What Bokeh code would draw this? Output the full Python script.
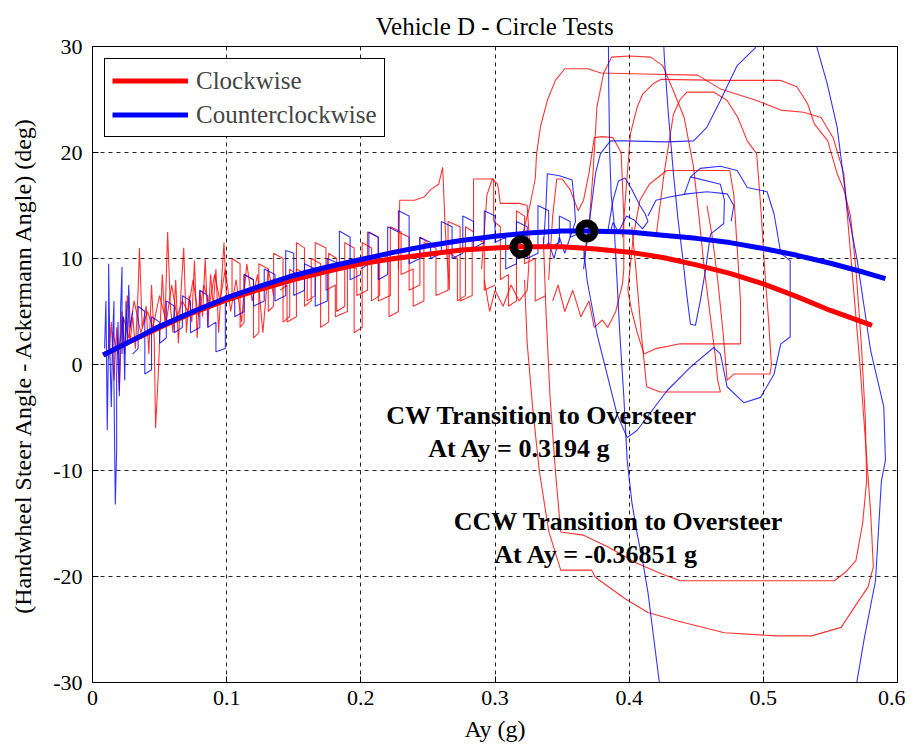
from bokeh.plotting import figure
from bokeh.models import Range1d, Label, Legend, LegendItem
from bokeh.embed import file_html
from bokeh.resources import INLINE

# ---------------- data ----------------
x_ticks = [0, 0.1, 0.2, 0.3, 0.4, 0.5, 0.6]
x_tick_labels = ["0", "0.1", "0.2", "0.3", "0.4", "0.5", "0.6"]
y_ticks = [-30, -20, -10, 0, 10, 20, 30]
y_tick_labels = ["-30", "-20", "-10", "0", "10", "20", "30"]

# fitted curves
cw_fit_x = [0.008, 0.03, 0.05, 0.075, 0.1, 0.125, 0.15, 0.175, 0.2, 0.225, 0.25, 0.275,
            0.3, 0.3194, 0.35, 0.375, 0.4, 0.425, 0.45, 0.475, 0.5, 0.525, 0.55, 0.581]
cw_fit_y = [0.9, 2.3, 3.5, 4.9, 6.1, 7.1, 8.0, 8.8, 9.5, 10.0, 10.4, 10.8,
            11.0, 11.1, 11.1, 10.9, 10.6, 10.1, 9.4, 8.6, 7.6, 6.4, 5.1, 3.7]
ccw_fit_x = [0.008, 0.03, 0.05, 0.075, 0.1, 0.125, 0.15, 0.175, 0.2, 0.225, 0.25, 0.275,
             0.3, 0.325, 0.35, 0.3685, 0.4, 0.425, 0.45, 0.475, 0.5, 0.525, 0.55, 0.575, 0.591]
ccw_fit_y = [0.9, 2.3, 3.6, 5.0, 6.3, 7.4, 8.4, 9.2, 9.9, 10.6, 11.2, 11.7,
             12.1, 12.4, 12.6, 12.6, 12.5, 12.2, 11.9, 11.5, 10.95, 10.3, 9.55, 8.7, 8.1]

# transition points
cw_point_x = [0.3194]
cw_point_y = [11.1]
ccw_point_x = [0.3685]
ccw_point_y = [12.6]

# clockwise (red) measured traces
cw1_x = [0.012, 0.014, 0.016, 0.018, 0.020, 0.022, 0.024, 0.026, 0.028, 0.030, 0.032, 0.034, 0.035,
         0.037, 0.040, 0.042, 0.044, 0.046, 0.047, 0.049, 0.052, 0.054, 0.056, 0.058, 0.060, 0.062,
         0.064, 0.066, 0.068, 0.070, 0.072, 0.074, 0.076, 0.078, 0.080, 0.082, 0.084, 0.086, 0.088,
         0.090, 0.092, 0.094, 0.096, 0.098, 0.100]
cw1_y = [0.5, 4.0, -1.5, 3.5, -2.5, 5.0, 1.0, 6.5, 2.0, 4.5, 1.5, 7.0, 11.0,
         3.5, 5.5, 1.0, 7.5, 2.5, -6.0, -1.0, 8.5, 4.0, 12.5, 5.5, 3.0, 8.0,
         2.0, 7.0, 11.0, 3.0, 6.5, 4.0, 9.8, 2.5, 7.0, 4.5, 10.0, 3.5, 8.5,
         5.5, 9.0, 3.0, 7.5, 11.5, 6.0]
cw2_x = [0.015, 0.019, 0.023, 0.027, 0.031, 0.036, 0.041, 0.045, 0.050, 0.055, 0.059, 0.063, 0.067,
         0.071, 0.075, 0.079, 0.083, 0.087, 0.091, 0.095, 0.099, 0.103, 0.107, 0.111, 0.115, 0.119,
         0.123, 0.127, 0.131, 0.135]
cw2_y = [3.0, 1.0, 4.5, 2.5, 6.0, 3.0, 5.0, 3.5, 6.5, 4.0, 7.5, 4.5, 6.0,
         5.0, 8.0, 4.5, 7.5, 5.5, 8.5, 6.0, 9.0, 5.0, 8.0, 4.0, 9.5, 6.0,
         8.5, 3.0, 9.0, 6.5]
cw3_x = [0.100, 0.104, 0.104, 0.110, 0.110, 0.113, 0.113, 0.120, 0.120, 0.124, 0.124, 0.131, 0.131,
         0.135, 0.135, 0.142, 0.142, 0.147, 0.147, 0.152, 0.152, 0.158, 0.158, 0.163, 0.163, 0.170,
         0.170, 0.176, 0.176, 0.182, 0.182, 0.188, 0.188, 0.195, 0.195, 0.201, 0.201, 0.208, 0.208,
         0.214, 0.214, 0.221, 0.221, 0.228, 0.228, 0.236, 0.236, 0.244, 0.244, 0.250]
cw3_y = [6.0, 6.5, 10.0, 9.5, 3.5, 4.0, 8.5, 8.0, 2.5, 3.0, 9.5, 9.0, 5.0,
         5.5, 10.5, 10.0, 4.0, 4.5, 9.0, 8.5, 11.5, 11.0, 5.5, 6.0, 10.0, 9.5,
         3.5, 4.0, 10.5, 10.0, 5.0, 5.5, 11.5, 11.0, 3.0, 3.5, 11.5, 11.0, 6.0,
         6.5, 10.5, 10.0, 4.5, 5.0, 12.5, 12.0, 7.0, 7.5, 12.0, 11.5]
cw4_x = [0.140, 0.145, 0.145, 0.152, 0.152, 0.160, 0.160, 0.166, 0.166, 0.174, 0.174, 0.181, 0.181,
         0.190, 0.190, 0.197, 0.197, 0.205, 0.205, 0.213, 0.213, 0.222, 0.222, 0.230, 0.230, 0.239,
         0.239, 0.247, 0.247, 0.256, 0.256, 0.265, 0.265, 0.274, 0.274, 0.283, 0.283, 0.292, 0.292,
         0.300]
cw4_y = [7.0, 7.5, 4.0, 4.5, 9.0, 8.5, 6.0, 6.5, 11.5, 11.0, 7.0, 7.5, 4.5,
         5.0, 9.5, 9.0, 6.5, 7.0, 12.5, 12.0, 6.0, 6.5, 13.0, 12.5, 8.5, 9.0,
         5.5, 6.0, 11.5, 11.0, 6.5, 7.0, 13.5, 13.0, 6.0, 6.5, 12.0, 11.5, 7.0,
         7.5]
cw5_x = [0.228, 0.229, 0.240, 0.247, 0.252, 0.258, 0.261, 0.263, 0.266, 0.266, 0.272, 0.272, 0.278,
         0.278, 0.284, 0.284, 0.299, 0.299, 0.304, 0.304, 0.310, 0.310, 0.316, 0.316, 0.322, 0.322,
         0.330, 0.330, 0.338]
cw5_y = [9.0, 15.5, 15.5, 15.8, 16.5, 17.0, 18.6, 12.5, 7.0, 10.5, 10.0, 6.0, 6.5,
         13.0, 12.5, 17.5, 17.5, 13.5, 13.0, 8.0, 8.5, 5.5, 6.0, 14.5, 14.0, 9.5,
         10.0, 6.0, 6.5]
cw6_x = [0.318, 0.322, 0.326, 0.330, 0.331, 0.334, 0.339, 0.345, 0.352, 0.369, 0.379, 0.410, 0.451,
         0.468, 0.495, 0.513, 0.530, 0.543, 0.552, 0.560, 0.564, 0.568, 0.572, 0.576, 0.580, 0.582,
         0.578, 0.571, 0.558, 0.536, 0.510, 0.471, 0.436, 0.414, 0.397, 0.375, 0.372, 0.349, 0.340,
         0.333, 0.328, 0.324, 0.322]
cw6_y = [11.0, 13.0, 15.0, 17.5, 19.9, 22.5, 24.9, 26.8, 27.9, 27.9, 27.5, 27.4, 27.3,
         26.0, 24.9, 24.0, 23.8, 23.3, 21.4, 18.0, 12.0, 6.0, 0.0, -7.0, -14.0, -19.1,
         -21.0, -22.3, -24.8, -25.6, -25.6, -25.3, -24.2, -23.4, -22.1, -20.1, -19.4, -19.4, -15.7,
         -10.0, -4.0, 2.0, 8.0]
cw7_x = [0.336, 0.338, 0.341, 0.345, 0.349, 0.366, 0.384, 0.405, 0.423, 0.438, 0.470, 0.500, 0.530,
         0.553, 0.562, 0.569, 0.574, 0.577, 0.576, 0.573, 0.569, 0.565, 0.560, 0.555, 0.548, 0.538,
         0.533, 0.525, 0.513, 0.470, 0.424, 0.418, 0.410, 0.406, 0.401, 0.398, 0.395]
cw7_y = [12.0, 5.0, -3.0, -10.0, -15.8, -16.1, -17.2, -18.7, -19.7, -20.4, -20.4, -20.4, -20.4,
         -20.4, -19.5, -18.5, -15.0, -11.0, -5.0, 2.0, 9.0, 14.0, 16.5, 18.0, 21.1, 22.7,
         24.6, 26.2, 26.8, 26.8, 26.9, 26.5, 25.5, 24.3, 21.8, 17.0, 12.0]
cw8_x = [0.366, 0.370, 0.373, 0.376, 0.381, 0.387, 0.400, 0.416, 0.425, 0.433, 0.441, 0.448, 0.452,
         0.456, 0.460, 0.464, 0.466, 0.468, 0.445, 0.423, 0.413, 0.409, 0.405, 0.402]
cw8_y = [10.0, 13.0, 18.0, 24.3, 27.5, 29.0, 29.1, 29.0, 28.2, 25.8, 23.3, 18.6, 14.0,
         9.0, 5.0, 1.0, -1.5, -2.6, -2.6, -2.6, -2.1, 3.0, 9.0, 13.0]
cw9_x = [0.420, 0.426, 0.433, 0.438, 0.443, 0.463, 0.473, 0.481, 0.488, 0.495, 0.498, 0.501, 0.504,
         0.506, 0.505, 0.490, 0.478, 0.473, 0.470, 0.466, 0.462, 0.458]
cw9_y = [12.0, 18.0, 23.6, 25.0, 25.7, 25.7, 24.9, 23.3, 21.1, 19.9, 15.0, 9.0, 4.0,
         0.0, -0.9, -0.9, -0.9, -1.5, 3.0, 8.0, 12.0, 15.0]
cw10_x = [0.340, 0.343, 0.346, 0.350, 0.356, 0.362, 0.366, 0.370, 0.374, 0.380, 0.388, 0.394, 0.396,
          0.396, 0.395, 0.390, 0.384, 0.380, 0.374, 0.370, 0.364, 0.358, 0.352, 0.347, 0.343]
cw10_y = [8.0, 14.0, 17.5, 17.5, 16.5, 14.5, 15.5, 18.0, 21.4, 21.5, 21.4, 20.0, 14.0,
          9.0, 7.6, 5.0, 3.5, 4.2, 3.5, 6.0, 4.5, 7.0, 5.0, 7.5, 6.0]
cw11_x = [0.399, 0.403, 0.408, 0.415, 0.428, 0.450, 0.475, 0.478, 0.480, 0.483, 0.483, 0.460, 0.438,
          0.420, 0.411, 0.406, 0.402, 0.399]
cw11_y = [7.0, 12.0, 15.5, 17.0, 18.3, 18.3, 18.3, 16.0, 12.0, 6.0, 1.95, 1.95, 1.95,
          1.5, 1.0, 3.0, 5.0, 7.0]
cw12_x = [0.290, 0.294, 0.298, 0.302, 0.304, 0.307, 0.312, 0.318, 0.324, 0.326, 0.324, 0.318, 0.312,
          0.306, 0.300, 0.296, 0.292]
cw12_y = [9.0, 16.0, 17.5, 17.0, 15.2, 15.2, 15.2, 15.2, 15.0, 11.0, 7.0, 6.0, 7.5,
          5.5, 7.0, 5.0, 8.0]

# counterclockwise (blue) measured traces
ccw1_x = [0.009, 0.010, 0.011, 0.012, 0.012, 0.013, 0.014, 0.015, 0.016, 0.016, 0.017, 0.018, 0.018,
          0.019, 0.020, 0.021, 0.022, 0.022, 0.023, 0.024, 0.025, 0.026, 0.027, 0.028, 0.030]
ccw1_y = [1.5, 6.0, -6.2, 3.0, 9.5, 1.0, -4.0, 2.5, 6.0, -2.0, -13.2, -8.0, -1.0,
          4.0, -3.0, 5.5, 9.2, 1.0, 4.5, -1.5, 6.0, 2.0, 7.5, 3.5, 5.0]
ccw2_x = [0.030, 0.034, 0.034, 0.039, 0.039, 0.044, 0.044, 0.050, 0.050, 0.055, 0.055, 0.061, 0.061,
          0.067, 0.067, 0.073, 0.073, 0.080, 0.080, 0.086, 0.086, 0.092, 0.092, 0.099, 0.099, 0.106,
          0.106, 0.113, 0.113, 0.120, 0.120, 0.128, 0.128, 0.136, 0.136, 0.144, 0.144, 0.150, 0.150,
          0.158, 0.158, 0.166, 0.166, 0.175, 0.175, 0.184, 0.184, 0.192, 0.192, 0.200]
ccw2_y = [1.0, 1.5, 5.5, 5.0, -0.9, -0.5, 4.5, 4.0, 2.0, 2.5, 6.0, 5.5, 3.0,
          3.5, 6.5, 6.0, 3.0, 3.5, 7.0, 6.5, 3.5, 4.0, 1.2, 1.5, 6.5, 6.0,
          4.5, 5.0, 8.5, 8.0, 5.5, 6.0, 9.0, 8.5, 6.0, 6.5, 10.75, 10.5, 6.5,
          7.0, 9.5, 9.0, 5.5, 6.0, 10.0, 9.5, 12.6, 12.0, 8.0, 8.5]
ccw3_x = [0.200, 0.206, 0.206, 0.213, 0.213, 0.220, 0.220, 0.228, 0.228, 0.236, 0.236, 0.244, 0.244,
          0.252, 0.252, 0.260, 0.260, 0.268, 0.268, 0.276, 0.276, 0.284, 0.284, 0.292, 0.292, 0.300,
          0.300, 0.308, 0.308, 0.316, 0.316, 0.324, 0.324, 0.332, 0.332, 0.340, 0.340, 0.348, 0.348,
          0.356, 0.356, 0.365]
ccw3_y = [9.0, 9.5, 12.5, 12.0, 8.0, 8.5, 13.0, 12.5, 14.5, 14.0, 9.5, 10.0, 12.0,
          11.5, 10.0, 10.5, 13.5, 13.0, 10.0, 10.5, 14.0, 13.5, 11.0, 11.5, 14.5, 14.0,
          11.5, 12.0, 9.0, 9.5, 13.5, 13.0, 10.0, 10.5, 15.0, 14.5, 11.0, 11.5, 14.0,
          13.5, 12.0, 12.5]
ccw4_x = [0.336, 0.338, 0.339, 0.348, 0.3575, 0.359, 0.360, 0.356, 0.352, 0.348, 0.344, 0.340, 0.337]
ccw4_y = [11.0, 15.0, 18.0, 17.8, 17.4, 15.5, 13.5, 12.0, 10.5, 12.0, 10.0, 11.5, 11.0]
ccw5_x = [0.366, 0.369, 0.3724, 0.3749, 0.3786, 0.386, 0.396, 0.428, 0.448, 0.458, 0.468, 0.4805,
          0.4942, 0.497]
ccw5_y = [9.0, 12.0, 15.5, 18.0, 19.9, 21.1, 21.1, 21.0, 21.1, 22.4, 24.9, 28.2, 29.9, 31.0]
ccw6_x = [0.3845, 0.3848, 0.3855, 0.3866, 0.3886, 0.3905, 0.3930, 0.3960, 0.3985, 0.4020, 0.4060,
          0.4100, 0.4140, 0.4180, 0.4230]
ccw6_y = [31.0, 26.0, 20.0, 16.0, 13.6, 9.0, 3.0, -3.0, -9.0, -13.0, -16.0, -18.5, -21.5, -25.5, -30.5]
ccw7_x = [0.4255, 0.4262, 0.429, 0.433, 0.4365, 0.440, 0.443, 0.4457, 0.4494, 0.453, 0.457, 0.4606,
          0.4705, 0.471, 0.468, 0.4457, 0.441]
ccw7_y = [31.0, 29.0, 24.0, 18.0, 13.6, 10.0, 6.5, 3.8, 3.7, 6.0, 9.0, 12.3, 13.3, 15.5, 17.0, 17.7, 16.0]
ccw8_x = [0.4457, 0.453, 0.468, 0.4805, 0.488, 0.5028, 0.508, 0.513, 0.520, 0.520, 0.513, 0.508, 0.498,
          0.4854, 0.473, 0.468, 0.463, 0.4457, 0.428, 0.406, 0.3985, 0.391, 0.376, 0.3687, 0.366]
ccw8_y = [17.7, 18.5, 18.7, 18.3, 16.7, 16.3, 14.2, 10.5, 9.8, 2.6, 1.95, -0.9, -3.1,
          -3.6, -2.1, 1.0, 1.6, -0.25, -2.5, -6.2, -6.9, -4.7, 2.9, 7.9, 11.0]
ccw9_x = [0.5395, 0.540, 0.5476, 0.555, 0.5588, 0.5625, 0.570, 0.580, 0.5898, 0.591, 0.588, 0.5836,
          0.575, 0.569]
ccw9_y = [31.0, 29.9, 26.5, 22.4, 18.6, 14.8, 9.8, 1.3, -4.0, -9.05, -11.0, -20.4, -26.0, -30.5]
ccw10_x = [0.384, 0.388, 0.392, 0.397, 0.402, 0.408, 0.412, 0.414, 0.410, 0.404, 0.398, 0.392, 0.388, 0.386]
ccw10_y = [12.5, 15.5, 17.3, 17.6, 16.5, 15.0, 14.2, 13.5, 12.8, 13.6, 14.0, 12.5, 13.4, 12.5]
ccw11_x = [0.414, 0.420, 0.430, 0.443, 0.458, 0.473, 0.478, 0.476]
ccw11_y = [14.0, 15.5, 15.8, 16.1, 16.3, 16.1, 15.0, 13.5]

cw_traces = [(cw1_x, cw1_y), (cw2_x, cw2_y), (cw3_x, cw3_y), (cw4_x, cw4_y), (cw5_x, cw5_y),
             (cw6_x, cw6_y), (cw7_x, cw7_y), (cw8_x, cw8_y), (cw9_x, cw9_y), (cw10_x, cw10_y),
             (cw11_x, cw11_y), (cw12_x, cw12_y)]
ccw_traces = [(ccw1_x, ccw1_y), (ccw2_x, ccw2_y), (ccw3_x, ccw3_y), (ccw4_x, ccw4_y),
              (ccw5_x, ccw5_y), (ccw6_x, ccw6_y), (ccw7_x, ccw7_y), (ccw8_x, ccw8_y),
              (ccw9_x, ccw9_y), (ccw10_x, ccw10_y), (ccw11_x, ccw11_y)]

RED = "#ff0000"
BLUE = "#0000ff"
SERIF = "Liberation Serif"

# ---------------- figure ----------------
p = figure(width=905, height=746, x_range=Range1d(0, 0.6), y_range=Range1d(-30, 30),
           output_backend="svg", toolbar_location=None, title="Vehicle D - Circle Tests",
           min_border_left=92, min_border_right=8, min_border_top=46, min_border_bottom=64)
p.background_fill_color = "white"
p.border_fill_color = "white"
p.outline_line_color = "black"
p.outline_line_alpha = 1.0
p.outline_line_width = 1

p.title.text_font = SERIF
p.title.text_font_size = "25px"
p.title.text_font_style = "normal"
p.title.text_color = "black"
p.title.align = "center"
p.title.standoff = 14

for ax, ticks, labels in ((p.xaxis, x_ticks, x_tick_labels), (p.yaxis, y_ticks, y_tick_labels)):
    ax.ticker = ticks
    ax.major_label_overrides = {t: s for t, s in zip(ticks, labels)}
    ax.major_label_text_font = SERIF
    ax.major_label_text_font_size = "22px"
    ax.major_label_text_color = "black"
    ax.axis_label_text_font = SERIF
    ax.axis_label_text_font_style = "normal"
    ax.axis_label_text_color = "black"
    ax.axis_line_color = "black"
    ax.major_tick_in = 6
    ax.major_tick_out = 0
    ax.minor_tick_line_color = None
    ax.major_tick_line_color = "black"

p.xaxis.axis_label = "Ay (g)"
p.xaxis.axis_label_text_font_size = "24px"
p.xaxis.major_label_standoff = 8
p.xaxis.axis_label_standoff = 8
p.yaxis.axis_label = "(Handwheel Steer Angle - Ackermann Angle) (deg)"
p.yaxis.axis_label_text_font_size = "24px"
p.yaxis.major_label_standoff = 10
p.yaxis.axis_label_standoff = 14

p.xgrid.ticker = x_ticks
p.ygrid.ticker = y_ticks
for g in (p.xgrid, p.ygrid):
    g.grid_line_color = "black"
    g.grid_line_dash = "4 4"
    g.grid_line_alpha = 0.85
    g.grid_line_width = 1

for xs, ys in cw_traces:
    p.line(xs, ys, line_color=RED, line_width=1.1, line_alpha=0.8)
for xs, ys in ccw_traces:
    p.line(xs, ys, line_color=BLUE, line_width=1.1, line_alpha=0.8)

r_cw = p.line(cw_fit_x, cw_fit_y, line_color=RED, line_width=5)
r_ccw = p.line(ccw_fit_x, ccw_fit_y, line_color=BLUE, line_width=5)

p.scatter(cw_point_x, cw_point_y, marker="circle", size=15, fill_color=None,
          line_color="black", line_width=8)
p.scatter(ccw_point_x, ccw_point_y, marker="circle", size=15, fill_color=None,
          line_color="black", line_width=8)

legend = Legend(items=[LegendItem(label="Clockwise", renderers=[r_cw]),
                       LegendItem(label="Counterclockwise", renderers=[r_ccw])],
                location="top_left")
legend.label_text_font = SERIF
legend.label_text_font_size = "25px"
legend.glyph_width = 76
legend.glyph_height = 29
legend.label_height = 29
legend.label_standoff = 8
legend.padding = 7
legend.spacing = 5
legend.margin = 12
legend.border_line_color = "black"
legend.border_line_width = 1
legend.border_line_alpha = 1.0
legend.background_fill_alpha = 1.0
p.add_layout(legend)

for x, y, txt in ((0.3347, -4.8, "CW Transition to Oversteer"),
                  (0.3183, -7.9, "At Ay = 0.3194 g"),
                  (0.392, -14.8, "CCW Transition to Oversteer"),
                  (0.3756, -17.9, "At Ay = -0.36851 g")):
    p.add_layout(Label(x=x, y=y, text=txt, text_font=SERIF, text_font_style="bold",
                       text_font_size="26px", text_align="center", text_baseline="middle",
                       text_color="black"))

open("out.html", "w").write(file_html(p, INLINE))
